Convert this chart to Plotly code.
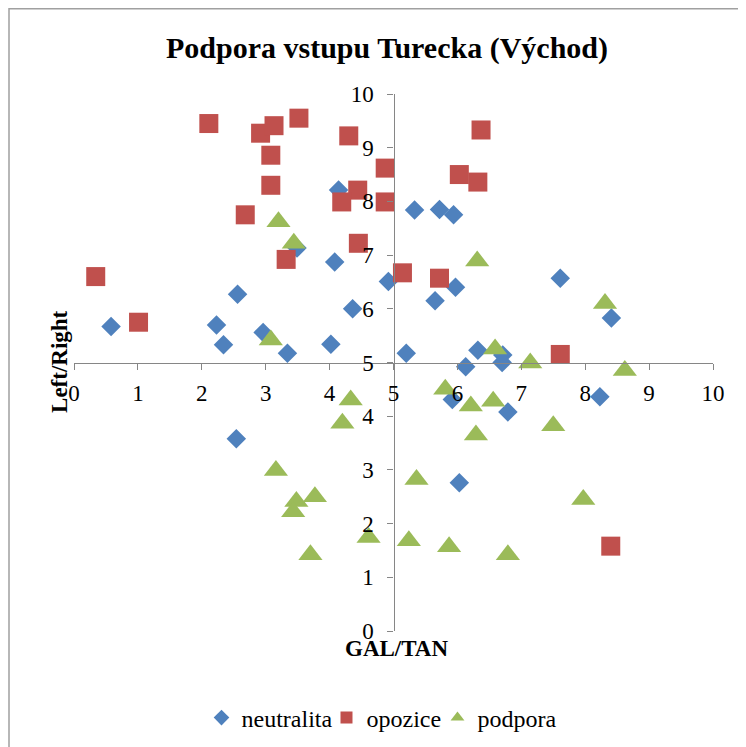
import plotly.graph_objects as go

# neutralita
neu_x = [0.58, 2.56, 2.23, 2.34, 2.96, 3.34, 3.49, 4.02, 4.08, 4.14, 4.36, 4.92, 5.33, 5.72, 5.94,
         5.97, 5.65, 7.61, 8.41, 5.20, 6.32, 6.71, 6.70, 6.13, 5.92, 6.79, 8.23, 6.03, 2.54]
neu_y = [5.67, 6.27, 5.70, 5.33, 5.56, 5.17, 7.13, 5.34, 6.87, 8.21, 6.00, 6.51, 7.84, 7.85, 7.75,
         6.40, 6.15, 6.57, 5.83, 5.17, 5.23, 5.14, 5.00, 4.92, 4.31, 4.08, 4.36, 2.76, 3.58]

# opozice
opo_x = [0.34, 1.01, 2.11, 2.92, 3.13, 3.52, 3.08, 3.08, 2.68, 3.32, 4.30, 4.44, 4.19, 4.45, 4.87,
         4.87, 5.14, 6.37, 6.03, 6.32, 5.72, 7.61, 8.40]
opo_y = [6.60, 5.75, 9.45, 9.27, 9.41, 9.55, 8.86, 8.30, 7.75, 6.92, 9.22, 8.21, 7.99, 7.22, 8.62,
         7.99, 6.67, 9.33, 8.50, 8.36, 6.57, 5.15, 1.58]

# podpora
pod_x = [3.20, 3.44, 3.08, 6.31, 8.31, 6.59, 7.14, 8.62, 5.81, 6.21, 6.56, 6.29, 7.50, 5.36, 7.97,
         5.24, 5.87, 6.79, 4.33, 4.20, 3.16, 3.48, 3.43, 3.77, 3.70, 4.61]
pod_y = [7.62, 7.22, 5.42, 6.89, 6.10, 5.25, 4.99, 4.85, 4.50, 4.19, 4.28, 3.65, 3.82, 2.82, 2.45,
         1.68, 1.57, 1.42, 4.30, 3.87, 2.99, 2.41, 2.22, 2.50, 1.42, 1.74]

tick_vals = list(range(0, 11))
tick_text = [str(v) for v in tick_vals]

FONT = "Liberation Serif"
AXIS_COLOR = "#868686"

# page has an 8px body margin; the layout below compensates for it
L, T, R, B = 66, 86, 41, 124

fig = go.Figure()
fig.add_trace(go.Scatter(x=neu_x, y=neu_y, mode="markers", name="neutralita", legendwidth=80,
                         marker=dict(symbol="diamond", size=15, color="#4F81BD", line=dict(width=0)),
                         cliponaxis=False))
fig.add_trace(go.Scatter(x=opo_x, y=opo_y, mode="markers", name="opozice", legendwidth=66,
                         marker=dict(symbol="square", size=19, color="#C0504D", line=dict(width=0)),
                         cliponaxis=False))
fig.add_trace(go.Scatter(x=pod_x, y=pod_y, mode="markers", name="podpora", legendwidth=80,
                         marker=dict(symbol="triangle-up", size=21, color="#9BBB59", line=dict(width=0)),
                         cliponaxis=False))

axis_common = dict(range=[0, 10], tickvals=tick_vals, ticktext=tick_text, anchor="free", position=0.5,
                   showline=True, linecolor=AXIS_COLOR, linewidth=1.3, ticks="outside", ticklen=6,
                   tickcolor=AXIS_COLOR, tickwidth=1.3, showgrid=False, zeroline=False,
                   tickfont=dict(family=FONT, size=23, color="black"))

fig.update_layout(
    width=746, height=747,
    margin=dict(l=L, t=T, r=R, b=B),
    paper_bgcolor="white", plot_bgcolor="white",
    font=dict(family=FONT, size=23, color="black"),
    title=dict(text="<b>Podpora vstupu Turecka (Východ)</b>", x=(387 - 8) / 746, xanchor="center",
               y=1 - (47 - 8) / 747, yanchor="middle", font=dict(family=FONT, size=30, color="black")),
    xaxis=dict(**axis_common, ticklabelstandoff=4),
    yaxis=dict(**axis_common, ticklabelstandoff=9),
    legend=dict(orientation="h", x=0.482, xanchor="center", y=-0.162, yanchor="middle",
                font=dict(family=FONT, size=24, color="black"), itemsizing="constant",
                itemwidth=30, bgcolor="rgba(0,0,0,0)", tracegroupgap=0),
    showlegend=True,
    annotations=[
        dict(text="<b>Left/Right</b>", xref="paper", yref="paper", x=(60 - 74) / 639, y=0.501,
             textangle=-90, showarrow=False, xanchor="center", yanchor="middle",
             font=dict(family=FONT, size=23, color="black")),
        dict(text="<b>GAL/TAN</b>", xref="paper", yref="paper", x=0.504, y=-0.0335,
             showarrow=False, xanchor="center", yanchor="middle",
             font=dict(family=FONT, size=23, color="black")),
    ],
    shapes=[
        dict(type="rect", xref="paper", yref="paper", x0=(1 - L) / 639, x1=1.2,
             y0=-0.4, y1=1 + (T - 0.75) / 537, line=dict(color="#A0A0A0", width=1.5),
             fillcolor="rgba(0,0,0,0)", layer="below"),
    ],
)

fig.write_html("out.html")
